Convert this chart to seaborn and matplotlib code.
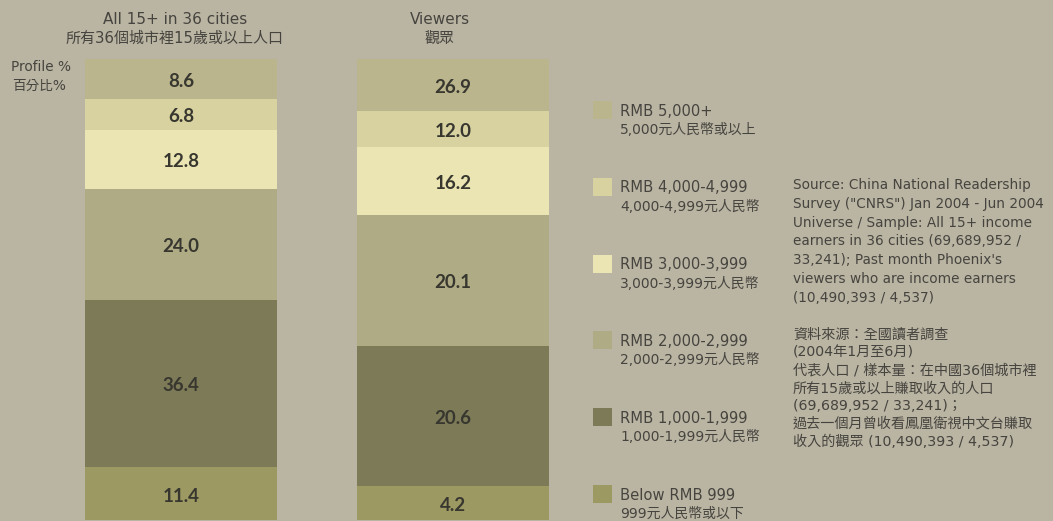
import matplotlib
matplotlib.use("Agg")
import matplotlib.pyplot as plt
import numpy as np
import pandas as pd
import seaborn as sns
from matplotlib.patches import Rectangle

# income bands, top of the stack first
bands = ["RMB 5,000+", "RMB 4,000-4,999", "RMB 3,000-3,999",
         "RMB 2,000-2,999", "RMB 1,000-1,999", "Below RMB 999"]
bands_zh = ["5,000元人民幣或以上", "4,000-4,999元人民幣", "3,000-3,999元人民幣",
            "2,000-2,999元人民幣", "1,000-1,999元人民幣", "999元人民幣或以下"]
band_colors = ["#BAB58C", "#D7D2A0", "#EAE5B3", "#AFAC85", "#7C7A57", "#9D9963"]

groups = ["all", "viewers"]
all_share = [8.6, 6.8, 12.8, 24.0, 36.4, 11.4]
viewers_share = [26.9, 12.0, 16.2, 20.1, 20.6, 4.2]
# the source graphic does not draw the viewer segments to scale;
# these are the segment heights as drawn
viewers_drawn = [11.3, 7.8, 14.7, 28.4, 30.4, 7.4]

source_en = [
    "Source: China National Readership",
    'Survey ("CNRS") Jan 2004 - Jun 2004',
    "Universe / Sample: All 15+ income",
    "earners in 36 cities (69,689,952 /",
    "33,241); Past month Phoenix's",
    "viewers who are income earners",
    "(10,490,393 / 4,537)",
]
source_zh = [
    "資料來源：全國讀者調查",
    "(2004年1月至6月)",
    "代表人口 / 樣本量：在中國36個城市裡",
    "所有15歲或以上賺取收入的人口",
    "(69,689,952 / 33,241)；",
    "過去一個月曾收看鳳凰衛視中文台賺取",
    "收入的觀眾 (10,490,393 / 4,537)",
]

BG = "#BAB4A2"
TXT = "#46443F"
W, H = 1053, 521

sns.set_style("white")
plt.rcParams["font.family"] = ["DejaVu Sans", "Noto Sans CJK TC"]


def px(x, y):
    return x / W, 1 - y / H


# stacked bars: draw the cumulative tops, tallest first
rows = []
for g, heights, labels in [("all", all_share, all_share),
                           ("viewers", viewers_drawn, viewers_share)]:
    h = np.array(heights[::-1])
    tops = np.cumsum(h)[::-1]
    for band, top, seg, lab in zip(bands, tops, heights, labels):
        rows.append({"group": g, "band": band, "top": top,
                     "mid": top - seg / 2, "label": lab})
df = pd.DataFrame(rows)

fig = plt.figure(figsize=(W / 100, H / 100), dpi=100, facecolor=BG)
ax = fig.add_axes([0, 0, 1, 1])
ax.set_facecolor(BG)

for band, col in zip(bands, band_colors):
    sub = df[df["band"] == band]
    sns.barplot(data=sub, x="group", y="top", order=groups, color=col,
                width=0.706, saturation=1, linewidth=0, ax=ax)

for _, r in df.iterrows():
    ax.text(groups.index(r["group"]), r["mid"] - 0.5, f"{r['label']:.1f}",
            ha="center", va="center", fontsize=13.5, fontweight="bold",
            family="Lato", color="#38372F")

ax.set_xlim(-0.6654, -0.6654 + W / 272)
ax.set_ylim(-1 / 4.61, 100 + 59 / 4.61)
ax.set_axis_off()

# column headers
fig.text(*px(175, 20), "All 15+ in 36 cities", ha="center", va="center",
         fontsize=11, color=TXT)
fig.text(*px(175, 38), "所有36個城市裡15歲或以上人口", ha="center", va="center",
         fontsize=10.8, color=TXT)
fig.text(*px(440, 20), "Viewers", ha="center", va="center",
         fontsize=11, color=TXT)
fig.text(*px(440, 38), "觀眾", ha="center", va="center",
         fontsize=10.8, color=TXT)
fig.text(*px(11, 67), "Profile %", ha="left", va="center",
         fontsize=9.8, color=TXT)
fig.text(*px(12, 86), "百分比%", ha="left", va="center",
         fontsize=9.8, color=TXT)

# legend
for i, (en, zh, col) in enumerate(zip(bands, bands_zh, band_colors)):
    yc = 110 + i * 76.8
    x0, y0 = px(593, yc + 9)
    fig.patches.append(Rectangle((x0, y0), 19 / W, 18 / H, facecolor=col,
                                 edgecolor="none", transform=fig.transFigure))
    fig.text(*px(620, yc + 1), en, ha="left", va="center",
             fontsize=10.6, color=TXT)
    fig.text(*px(620, yc + 20), zh, ha="left", va="center",
             fontsize=10, color=TXT)

# source notes
for i, line in enumerate(source_en):
    fig.text(*px(793, 185 + i * 18.8), line, ha="left", va="center",
             fontsize=9.8, color=TXT)
for i, line in enumerate(source_zh):
    fig.text(*px(793, 335 + i * 17.8), line, ha="left", va="center",
             fontsize=10.2, color=TXT)

fig.savefig("out.png", dpi=100, facecolor=BG)
